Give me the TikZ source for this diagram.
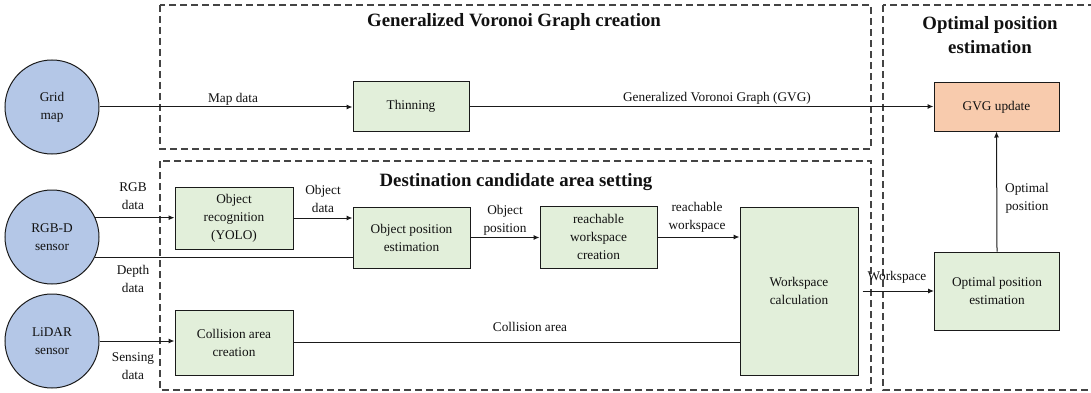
\documentclass[tikz,border=0pt]{standalone}
\usepackage{fontspec}
\setmainfont{Liberation Serif}
\usetikzlibrary{arrows.meta,calc}
\definecolor{cblue}{HTML}{B4C7E7}
\definecolor{cgreen}{HTML}{E2EFDA}
\definecolor{corange}{HTML}{F8CBAD}
\definecolor{cline}{HTML}{1A1A1A}
\definecolor{cdash}{HTML}{444444}
\definecolor{ctext}{HTML}{111111}
\begin{document}
\begin{tikzpicture}[x=1pt,y=-1pt,
  every node/.style={text=ctext},
  body/.style={font=\fontsize{13.3}{18}\selectfont, align=center},
  ttl/.style={font=\fontsize{18.8}{24}\selectfont\bfseries, align=center},
  src/.style={circle, draw=cline, line width=1pt, fill=cblue, minimum size=94pt, inner sep=0pt, body},
  proc/.style={rectangle, draw=cline, line width=1pt, fill=cgreen, inner sep=0pt, body},
  grp/.style={draw=cdash, line width=1.1pt, dash pattern=on 7pt off 4pt},
  arr/.style={draw=cline, line width=1pt, -{Latex[length=6pt,width=5pt]}},
  ln/.style={draw=cline, line width=1pt},
  lbl/.style={body, inner sep=0pt}
]
\clip (0,0) rectangle (1091,393);
\fill[white] (0,0) rectangle (1091,393);
% groups
\draw[grp] (160,5) rectangle (871,149);
\draw[grp] (160,161) rectangle (871,390);
\draw[grp] (883,5) rectangle (1110,390);
\node[ttl] (t1) at (514,22) {Generalized Voronoi Graph creation};
\node[ttl] (t2) at (516,182) {Destination candidate area setting};
\node[ttl] (t3) at (990,35) {Optimal position\\estimation};
% sources
\node[src] (grid) at (52,107) {Grid\\map};
\node[src] (rgbd) at (52,237) {RGB-D\\sensor};
\node[src] (lidar) at (52,341) {LiDAR\\sensor};
% processes
\node[proc, minimum width=116pt, minimum height=49pt] (thin) at (411,106.5) {Thinning};
\node[proc, fill=corange, minimum width=125pt, minimum height=48pt] (gvgu) at (996.5,107) {GVG update};
\node[proc, minimum width=118pt, minimum height=62pt] (objrec) at (234,218) {Object\\recognition\\(YOLO)};
\node[proc, minimum width=117pt, minimum height=61pt] (objpos) at (411.5,237.5) {Object position\\estimation};
\node[proc, minimum width=117pt, minimum height=62pt] (reach) at (598.5,237) {reachable\\workspace\\creation};
\node[proc, minimum width=118pt, minimum height=168pt] (wscalc) at (799,291) {Workspace\\calculation};
\node[proc, minimum width=118pt, minimum height=65pt] (collis) at (234,342.5) {Collision area\\creation};
\node[proc, minimum width=125pt, minimum height=78pt] (optest) at (997,291) {Optimal position\\estimation};
% connectors
\draw[arr] (grid.east) -- (grid.east -| thin.west);
\draw[arr] (thin.east) -- (thin.east -| gvgu.west);
\draw[arr] (rgbd.24) -- (rgbd.24 -| objrec.west);
\draw[ln] (rgbd.-25) -- (rgbd.-25 -| objpos.west);
\draw[arr] (objrec.east) -- (objrec.east -| objpos.west);
\draw[arr] (objpos.east) -- (objpos.east -| reach.west);
\draw[arr] (reach.east) -- (reach.east -| wscalc.west);
\draw[arr] (lidar.east) -- (lidar.east -| collis.west);
\draw[ln] (collis.east) -- (collis.east -| wscalc.west);
\draw[arr, shorten <=4pt] (wscalc.east) -- (optest.west);
\draw[arr] (optest.north) -- (gvgu.south);
% labels
\node[lbl] (lmap) at (233,99) {Map data};
\node[lbl] (lgvg) at (717,98) {Generalized Voronoi Graph (GVG)};
\node[lbl] (lrgb) at (133,196) {RGB\\data};
\node[lbl] (ldepth) at (133,279) {Depth\\data};
\node[lbl] (lsens) at (133,366) {Sensing\\data};
\node[lbl] (lobj) at (323,199) {Object\\data};
\node[lbl] (lopos) at (505,220) {Object\\position};
\node[lbl] (lreach) at (697,217) {reachable\\workspace};
\node[lbl] (lcoll) at (530,327) {Collision area};
\node[lbl] (lws) at (897,277) {Workspace};
\node[lbl, anchor=west] (lopt) at (1005,198) {Optimal\\position};
\end{tikzpicture}
\end{document}
